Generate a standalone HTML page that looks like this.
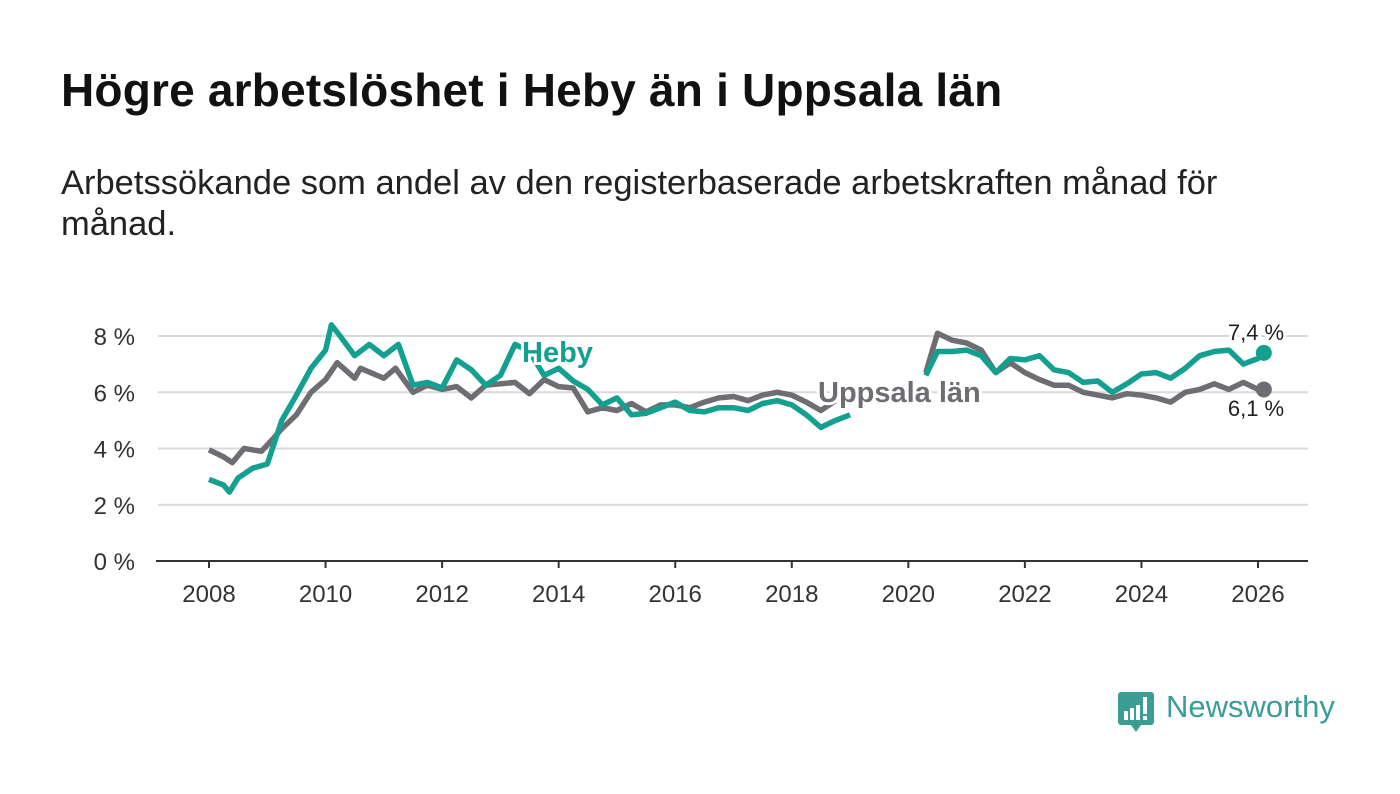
<!DOCTYPE html>
<html><head><meta charset="utf-8">
<style>
html,body{margin:0;padding:0;background:#fff;width:1400px;height:794px;overflow:hidden;font-family:"Liberation Sans",sans-serif;}
h1{position:absolute;left:61px;top:63px;margin:0;font-size:46px;font-weight:bold;color:#111;letter-spacing:0.2px;}
p.sub{position:absolute;left:61px;top:163px;margin:0;font-size:34.5px;line-height:41px;color:#222;width:1200px;}
svg{position:absolute;left:0;top:0;}
</style></head><body>
<h1>Högre arbetslöshet i Heby än i Uppsala län</h1>
<p class="sub">Arbetssökande som andel av den registerbaserade arbetskraften månad för månad.</p>
<svg id="chart" width="1400" height="794"></svg>
<script>
const yTicks=[0,2,4,6,8];
const xTicks=[2008,2010,2012,2014,2016,2018,2020,2022,2024,2026];
const hebyDates=[2008,2008.25,2008.35,2008.5,2008.75,2009,2009.25,2009.5,2009.75,2010,2010.1,2010.25,2010.5,2010.75,2011,2011.25,2011.5,2011.75,2012,2012.25,2012.5,2012.75,2013,2013.25,2013.5,2013.75,2014,2014.25,2014.5,2014.75,2015,2015.25,2015.5,2015.75,2016,2016.25,2016.5,2016.75,2017,2017.25,2017.5,2017.75,2018,2018.25,2018.5,2018.75,2019,2019.5,2020.3,2020.5,2020.75,2021,2021.25,2021.5,2021.75,2022,2022.25,2022.5,2022.75,2023,2023.25,2023.5,2023.75,2024,2024.25,2024.5,2024.75,2025,2025.25,2025.5,2025.75,2026,2026.1];
const hebyValues=[2.9,2.7,2.45,2.95,3.3,3.45,5.0,5.9,6.85,7.5,8.4,8.0,7.3,7.7,7.3,7.7,6.25,6.35,6.15,7.15,6.8,6.25,6.6,7.7,7.45,6.6,6.85,6.4,6.1,5.55,5.8,5.2,5.25,5.45,5.65,5.35,5.3,5.45,5.45,5.35,5.6,5.7,5.55,5.2,4.75,5.0,5.2,null,6.6,7.45,7.45,7.5,7.3,6.7,7.2,7.15,7.3,6.8,6.7,6.35,6.4,6.0,6.3,6.65,6.7,6.5,6.85,7.3,7.45,7.5,7.0,7.2,7.4];
const uppDates=[2008,2008.25,2008.4,2008.6,2008.9,2009.1,2009.25,2009.5,2009.75,2010,2010.2,2010.5,2010.6,2011,2011.2,2011.5,2011.75,2012,2012.25,2012.5,2012.75,2013,2013.25,2013.5,2013.75,2014,2014.25,2014.5,2014.75,2015,2015.25,2015.5,2015.75,2016,2016.25,2016.5,2016.75,2017,2017.25,2017.5,2017.75,2018,2018.25,2018.5,2018.75,2019.5,2020.3,2020.5,2020.75,2021,2021.25,2021.5,2021.75,2022,2022.25,2022.5,2022.75,2023,2023.25,2023.5,2023.75,2024,2024.25,2024.5,2024.75,2025,2025.25,2025.5,2025.75,2026,2026.1];
const uppValues=[3.95,3.7,3.5,4.0,3.9,4.35,4.7,5.2,6.0,6.45,7.05,6.5,6.85,6.5,6.85,6.0,6.25,6.1,6.2,5.8,6.25,6.3,6.35,5.95,6.45,6.2,6.15,5.3,5.45,5.35,5.6,5.3,5.55,5.55,5.45,5.65,5.8,5.85,5.7,5.9,6.0,5.9,5.65,5.35,5.7,null,6.7,8.1,7.85,7.75,7.5,6.7,7.05,6.7,6.45,6.25,6.25,6.0,5.9,5.8,5.95,5.9,5.8,5.65,6.0,6.1,6.3,6.1,6.35,6.1,6.1];
const svg=document.getElementById('chart');
const NS='http://www.w3.org/2000/svg';
const X=y=>209+(y-2008)*(1049/18);
const Y=v=>561-v*28.125;
function mk(tag,attrs){const e=document.createElementNS(NS,tag);for(const k in attrs)e.setAttribute(k,attrs[k]);svg.appendChild(e);return e;}
yTicks.forEach(t=>{
  if(t>0){const g=mk('line',{x1:158,x2:1308,y1:Y(t),y2:Y(t),stroke:'#d9d9d9','stroke-width':2});
  
  }
  const tx=mk('text',{x:135,y:Y(t)+9,'text-anchor':'end','font-size':24,fill:'#333','font-family':'Liberation Sans, sans-serif'});
  tx.textContent=t+' %';
  
  
});
const ax=mk('line',{x1:156,x2:1308,y1:561,y2:561,stroke:'#333','stroke-width':2});


xTicks.forEach(t=>{
  const tk=mk('line',{x1:X(t),x2:X(t),y1:561,y2:568,stroke:'#333','stroke-width':2});
  
  
  const tx=mk('text',{x:X(t),y:602,'text-anchor':'middle','font-size':24,fill:'#333','font-family':'Liberation Sans, sans-serif'});
  tx.textContent=t;
  
  
});
function pathOf(d,v){let s='',pen=false;for(let i=0;i<d.length;i++){if(v[i]==null){pen=false;continue;}s+=(pen?'L':'M')+X(d[i]).toFixed(1)+' '+Y(v[i]).toFixed(1);pen=true;}return s;}
const up=mk('path',{d:pathOf(uppDates,uppValues),fill:'none',stroke:'#6e6d72','stroke-width':5.5,'stroke-linejoin':'round'});


const hb=mk('path',{d:pathOf(hebyDates,hebyValues),fill:'none',stroke:'#14a090','stroke-width':5.5,'stroke-linejoin':'round'});


const hl=hebyDates.length-1, ul=uppDates.length-1;
const hd=mk('circle',{cx:X(hebyDates[hl]),cy:Y(hebyValues[hl]),r:8,fill:'#14a090'});


const ud=mk('circle',{cx:X(uppDates[ul]),cy:Y(uppValues[ul]),r:8,fill:'#6e6d72'});


function lab(txt,x,y,fill,size,w,name,anchor){const t=mk('text',{x:x,y:y,fill:fill,'font-size':size,'font-weight':w,'font-family':'Liberation Sans, sans-serif',stroke:'#fff','stroke-width':6,'paint-order':'stroke','text-anchor':anchor||'start'});t.textContent=txt;

}
lab('Heby',522,362,'#14a090',29,'bold','heby-label');
lab('Uppsala län',818,402,'#6e6d72',29,'bold','uppsala-label');
lab(String(hebyValues[hl]).replace('.',',')+' %',1256,340,'#222',22,'normal','heby-end-value','middle');
lab(String(uppValues[ul]).replace('.',',')+' %',1256,416,'#222',22,'normal','uppsala-end-value','middle');
</script>
<svg width="40" height="44" style="left:1118px;top:691px">
<path d="M3 1h30a3 3 0 0 1 3 3v27a3 3 0 0 1-3 3H23l-5 7-5-7H3a3 3 0 0 1-3-3V4a3 3 0 0 1 3-3z" fill="#3a9e96"/>
<rect x="6" y="20" width="4" height="9" fill="#fff"/><rect x="12" y="17" width="4" height="12" fill="#fff"/><rect x="18" y="14" width="4" height="15" fill="#fff"/><rect x="25" y="6" width="4" height="17" fill="#fff"/><rect x="25" y="25" width="4" height="4" fill="#fff"/>
</svg>
<div style="position:absolute;left:1166px;top:689px;font-size:31px;color:#3a9e96;font-family:'Liberation Sans',sans-serif;">Newsworthy</div>
</body></html>
